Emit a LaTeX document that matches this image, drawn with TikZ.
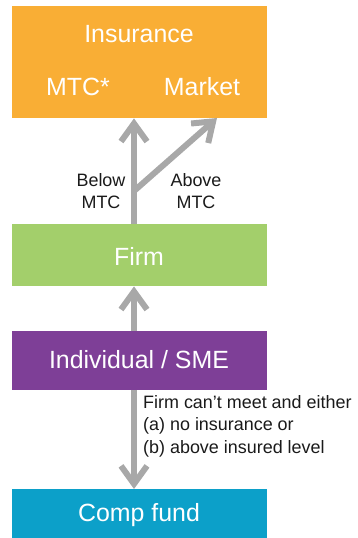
\documentclass[tikz,border=0pt]{standalone}
\usepackage{fontspec}
\setmainfont{Liberation Sans}
\usetikzlibrary{arrows.meta}
\definecolor{cins}{HTML}{F9AE35}
\definecolor{cfirm}{HTML}{A3CF6B}
\definecolor{cind}{HTML}{7E3F97}
\definecolor{ccomp}{HTML}{0CA0C9}
\definecolor{carr}{HTML}{A8A8A8}
\definecolor{ctxt}{HTML}{1A1A1A}
\begin{document}
\begin{tikzpicture}[x=1bp,y=-1bp,
  box/.style={draw=none,inner sep=0pt,minimum width=255bp,anchor=north west},
  big/.style={text=white,font=\fontsize{25}{30}\selectfont,inner sep=0pt},
  small/.style={text=ctxt,font=\fontsize{18}{22.5}\selectfont,inner sep=0pt},
  arr/.style={draw=carr,line width=6bp,-{Straight Barb[length=18bp,width=26bp]}}]
\useasboundingbox (0,0) rectangle (357,538);
\node[box,fill=cins,minimum height=112bp] (ins) at (12,6) {};
\node[box,fill=cfirm,minimum height=62bp] (firm) at (12,224) {};
\node[box,fill=cind,minimum height=59bp] (ind) at (12,331) {};
\node[box,fill=ccomp,minimum height=49bp] (comp) at (12,489) {};
\node[big] (tins) at (139,34) {Insurance};
\node[big] (tmtc) at (78,87) {MTC*};
\node[big] (tmkt) at (202,87) {Market};
\node[big] (tfirm) at (139,256) {Firm};
\node[big] (tind) at (139,360) {Individual / SME};
\node[big] (tcomp) at (139,515) {Comp fund};
\node[small,align=center] (below) at (101,191) {Below\\MTC};
\node[small,align=center] (above) at (196,191) {Above\\MTC};
\node[small,align=left,anchor=west] (cond) at (143,426) {Firm can’t meet and either\\(a) no insurance or\\(b) above insured level};
\coordinate (shaft) at (134,0);
\coordinate (branch) at (134,191);
\coordinate (mkt) at (217,118);
\draw[arr] (firm.north -| shaft) -- (ins.south -| shaft);
\draw[arr] (branch) -- (mkt);
\draw[arr] (ind.north -| shaft) -- (firm.south -| shaft);
\draw[arr] (ind.south -| shaft) -- (comp.north -| shaft);
\end{tikzpicture}
\end{document}
